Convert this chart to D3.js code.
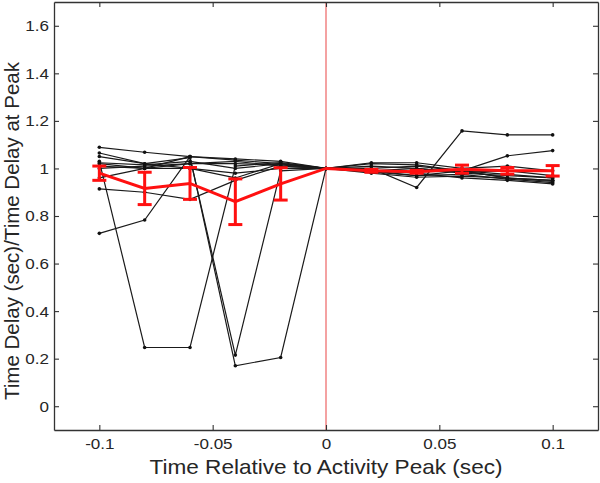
<!DOCTYPE html>
<html>
<head>
<meta charset="utf-8">
<script src="https://cdn.jsdelivr.net/npm/d3@7"></script>
<style>
html,body{margin:0;padding:0;background:#fff;}
svg{display:block;}
text{font-family:"Liberation Sans",Arial,sans-serif;fill:#262626;}
</style>
</head>
<body>
<svg id="chart" width="600" height="483"></svg>
<script>
// ---- data ----
const times = [-0.1, -0.08, -0.06, -0.04, -0.02, 0, 0.02, 0.04, 0.06, 0.08, 0.1];
const line1  = [1.089, 1.068, 1.05, 1.035, 1.02, 1, 1.02, 1.015, 0.99, 0.96, 0.95];
const line2  = [0.727, 0.783, 1.05, 1.04, 1.03, 1, 1.01, 1.0, 0.985, 0.99, 0.97];
const line3  = [1.03, 0.247, 0.247, 1.01, 1.025, 1, 0.99, 0.97, 0.975, 0.955, 0.94];
const line4  = [1.05, 1.02, 1.045, 0.215, 0.99, 1, 1.0, 1.01, 0.99, 0.975, 0.96];
const line5  = [1.02, 1.0, 1.05, 0.17, 0.205, 1, 0.99, 0.98, 0.96, 0.95, 0.935];
const line6  = [1.0, 1.01, 1.02, 1.03, 1.01, 1, 1.0, 0.92, 1.158, 1.141, 1.141];
const line7  = [1.024, 1.015, 1.03, 1.0, 1.02, 1, 0.99, 0.985, 0.99, 1.053, 1.075];
const line8  = [0.96, 1.0, 1.0, 0.98, 1.0, 1, 1.024, 1.024, 1.0, 1.01, 0.99];
const line9  = [0.914, 0.9, 0.87, 0.95, 1.01, 1, 0.98, 0.963, 0.968, 0.959, 0.945];
const line10 = [1.065, 1.02, 1.0, 0.96, 1.02, 1, 0.985, 0.97, 0.99, 0.96, 0.95];
const line11 = [1.01, 1.0, 1.02, 1.02, 1.015, 1, 0.99, 1.0, 0.98, 0.97, 0.96];
const meanValues = [0.98, 0.916, 0.937, 0.86, 0.935, 1.0, 0.99, 0.986, 0.997, 0.99, 0.99];
const errValues  = [0.03, 0.068, 0.067, 0.096, 0.068, 0, 0.006, 0.006, 0.017, 0.014, 0.022];
const xTicks = [-0.1, -0.05, 0, 0.05, 0.1];
const xTickLabels = ["-0.1", "-0.05", "0", "0.05", "0.1"];
const yTicks = [0, 0.2, 0.4, 0.6, 0.8, 1, 1.2, 1.4, 1.6];
const yTickLabels = ["0", "0.2", "0.4", "0.6", "0.8", "1", "1.2", "1.4", "1.6"];
const xTitle = "Time Relative to Activity Peak (sec)";
const yTitle = "Time Delay (sec)/Time Delay at Peak";
const allLines = [line1, line2, line3, line4, line5, line6, line7, line8, line9, line10, line11];

// ---- layout ----
const L = 54, R = 598, T = 2, B = 430;
const svg = d3.select("#chart");
const x = d3.scaleLinear().domain([-0.12, 0.12]).range([L, R]);
const y = d3.scaleLinear().domain([-0.1, 1.7]).range([B, T]);

// red vertical line at zero
svg.append("line")
  .attr("x1", x(0)).attr("x2", x(0)).attr("y1", T).attr("y2", B)
  .attr("stroke", "#ee7070").attr("stroke-width", 1.3);

// individual lines
const lineGen = d3.line().x((d, i) => x(times[i])).y(d => y(d));
const g = svg.append("g");
allLines.forEach(arr => {
  g.append("path").attr("d", lineGen(arr))
    .attr("fill", "none").attr("stroke", "#1a1a1a").attr("stroke-width", 1.2);
  g.selectAll(null).data(arr).enter().append("circle")
    .attr("cx", (d, i) => x(times[i])).attr("cy", d => y(d)).attr("r", 1.8)
    .attr("fill", "#111");
});

// mean line with error bars
const red = "#ff1010";
svg.append("path").attr("d", lineGen(meanValues))
  .attr("fill", "none").attr("stroke", red).attr("stroke-width", 3);
const eb = svg.append("g");
meanValues.forEach((m, i) => {
  const e = errValues[i];
  if (e <= 0) return;
  const cx = x(times[i]);
  eb.append("line").attr("x1", cx).attr("x2", cx).attr("y1", y(m - e)).attr("y2", y(m + e))
    .attr("stroke", red).attr("stroke-width", 3);
  [m - e, m + e].forEach(v => {
    eb.append("line").attr("x1", cx - 7).attr("x2", cx + 7).attr("y1", y(v)).attr("y2", y(v))
      .attr("stroke", red).attr("stroke-width", 3);
  });
});

// axes box
const axCol = "#333";
const axB = svg.append("g").attr("transform", `translate(0,${B})`)
  .call(d3.axisBottom(x).tickValues(xTicks).tickFormat((d, i) => xTickLabels[i]).tickSizeInner(-5).tickSizeOuter(0).tickPadding(8));
const axT = svg.append("g").attr("transform", `translate(0,${T})`)
  .call(d3.axisTop(x).tickValues(xTicks).tickFormat("").tickSizeInner(-5).tickSizeOuter(0));
const axL = svg.append("g").attr("transform", `translate(${L},0)`)
  .call(d3.axisLeft(y).tickValues(yTicks).tickFormat((d, i) => yTickLabels[i]).tickSizeInner(-5).tickSizeOuter(0).tickPadding(5));
const axR = svg.append("g").attr("transform", `translate(${R},0)`)
  .call(d3.axisRight(y).tickValues(yTicks).tickFormat("").tickSizeInner(-5).tickSizeOuter(0));
[axB, axT, axL, axR].forEach(a => {
  a.select(".domain").attr("stroke", axCol).attr("stroke-width", 1.3);
  a.selectAll(".tick line").attr("stroke", axCol).attr("stroke-width", 1.1);
  a.selectAll("text").attr("font-size", 15.5).attr("fill", "#262626")
    .attr("font-family", "'Liberation Sans', Arial, sans-serif");
});
[axB, axL].forEach(a => {
  a.selectAll(".tick text").each(function() {
    d3.select(this).attr("textLength", this.getComputedTextLength() * 1.1)
      .attr("lengthAdjust", "spacingAndGlyphs");
  });
});

// titles
svg.append("text").attr("x", x(0)).attr("y", 474).attr("text-anchor", "middle")
  .attr("font-size", 21).attr("textLength", 353).attr("lengthAdjust", "spacingAndGlyphs").text(xTitle);
svg.append("text").attr("transform", `translate(19,231) rotate(-90)`)
  .attr("text-anchor", "middle").attr("font-size", 20).attr("textLength", 338)
  .attr("lengthAdjust", "spacingAndGlyphs").text(yTitle);
</script>
</body>
</html>
